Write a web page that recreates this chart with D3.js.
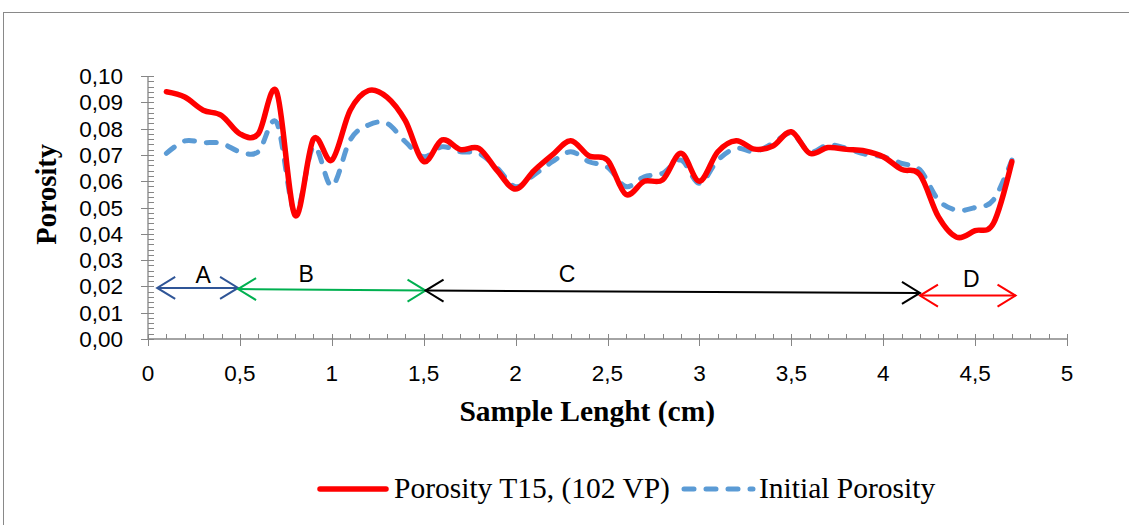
<!DOCTYPE html>
<html>
<head>
<meta charset="utf-8">
<script src="https://cdn.jsdelivr.net/npm/d3@7"></script>
<style>
  body { margin: 0; background: #fff; }
  svg { display: block; }
</style>
</head>
<body>
<div class="canva"></div>
<script>
// sample positions (cm)
const lengths = [0.1,0.2,0.3,0.4,0.5,0.6,0.7,0.8,0.9,1.0,1.1,1.2,1.3,1.4,1.5,1.6,1.7,1.8,1.9,2.0,
                 2.1,2.2,2.3,2.4,2.5,2.6,2.7,2.8,2.9,3.0,3.1,3.2,3.3,3.4,3.5,3.6,3.7,3.8,3.9,4.0,
                 4.1,4.2,4.3,4.4,4.5,4.6,4.7];
// Porosity T15, (102 VP)
const porosityT15 = [0.094,0.092,0.087,0.085,0.078,0.078,0.094,0.047,0.076,0.068,0.087,0.0945,0.092,0.083,0.0675,
                     0.0757,0.072,0.0725,0.064,0.057,0.064,0.070,0.0754,0.0696,0.068,0.055,0.060,0.0605,0.0706,0.060,
                     0.0712,0.0754,0.0722,0.0734,0.0788,0.0706,0.0728,0.0721,0.0715,0.0693,0.0645,0.0624,0.0465,0.0387,0.0412,
                     0.044,0.0674];
// Initial Porosity
const porosityInitial = [0.0706,0.0753,0.0747,0.0744,0.0712,0.0712,0.0823,0.048,0.0731,0.0582,0.0757,0.0814,0.082,0.075,0.0693,
                         0.0731,0.0712,0.0706,0.065,0.0579,0.0624,0.0674,0.0712,0.0674,0.0653,0.058,0.0617,0.063,0.068,0.0592,
                         0.068,0.0725,0.0712,0.0744,0.0782,0.0712,0.0738,0.0725,0.0703,0.0693,0.0668,0.0643,0.0529,0.049,0.050,
                         0.0529,0.068];

const xTicks = [0,0.5,1,1.5,2,2.5,3,3.5,4,4.5,5];
const yTicks = [0,0.01,0.02,0.03,0.04,0.05,0.06,0.07,0.08,0.09,0.10];

// zone arrows A-D
const zoneNames  = ["A","B","C","D"];
const zoneFrom   = [0.05,0.49,1.51,4.2];
const zoneTo     = [0.49,1.51,4.2,4.72];
const zoneYFrom  = [0.0194,0.0190,0.0184,0.0165];
const zoneYTo    = [0.0194,0.0184,0.0175,0.0165];
const zoneLabelX = [0.3,0.86,2.28,4.48];
const zoneLabelY = [0.0213,0.0216,0.0216,0.0198];
const zoneColors = ["#2f5597","#00b050","#000000","#ff0000"];

const seriesNames = ["Porosity T15, (102 VP)","Initial Porosity"];

const svg = d3.select(".canva").append("svg")
  .attr("width", 1129)
  .attr("height", 525);

svg.append("rect")
  .attr("x", 3.5).attr("y", 12.5)
  .attr("width", 1140).attr("height", 530)
  .attr("fill", "#fff")
  .attr("stroke", "#898989");

const x = d3.scaleLinear().domain([0,5]).range([148,1067]);
const y = d3.scaleLinear().domain([0,0.1]).range([339,76]);
const comma = s => s.replace(".", ",");

const axisColor = "#868686";
const tickFont = "'Liberation Sans', Arial, sans-serif";
const serifFont = "'Liberation Serif', 'Times New Roman', serif";

// x axis: minor ticks inside, major ticks cross
const xAxisG = svg.append("g");
xAxisG.append("line")
  .attr("x1", x(0)).attr("x2", x(5))
  .attr("y1", y(0)).attr("y2", y(0))
  .attr("stroke", axisColor).attr("stroke-width", 1.3);
xAxisG.selectAll(".xminor")
  .data(d3.range(0, 51))
  .enter().append("line")
  .attr("x1", d => Math.round(x(d/10)) + 0.5).attr("x2", d => Math.round(x(d/10)) + 0.5)
  .attr("y1", y(0) - 5).attr("y2", y(0))
  .attr("stroke", axisColor);
xAxisG.selectAll(".xmajor")
  .data(xTicks)
  .enter().append("line")
  .attr("x1", d => Math.round(x(d)) + 0.5).attr("x2", d => Math.round(x(d)) + 0.5)
  .attr("y1", y(0) - 5).attr("y2", y(0) + 7)
  .attr("stroke", axisColor);
xAxisG.selectAll(".xlabel")
  .data(xTicks)
  .enter().append("text")
  .attr("x", d => x(d)).attr("y", y(0) + 42)
  .attr("text-anchor", "middle")
  .style("font-family", tickFont).style("font-size", "22.5px")
  .text(d => comma(d3.format("")(d)));

// y axis
const yAxisG = svg.append("g");
yAxisG.append("line")
  .attr("x1", x(0)).attr("x2", x(0))
  .attr("y1", y(0)).attr("y2", y(0.1))
  .attr("stroke", axisColor).attr("stroke-width", 1.3);
yAxisG.selectAll(".yminor")
  .data(d3.range(0, 51))
  .enter().append("line")
  .attr("x1", x(0)).attr("x2", x(0) + 6)
  .attr("y1", d => Math.round(y(d/500)) + 0.5).attr("y2", d => Math.round(y(d/500)) + 0.5)
  .attr("stroke", axisColor);
yAxisG.selectAll(".ymajor")
  .data(yTicks)
  .enter().append("line")
  .attr("x1", x(0) - 7).attr("x2", x(0) + 6)
  .attr("y1", d => Math.round(y(d)) + 0.5).attr("y2", d => Math.round(y(d)) + 0.5)
  .attr("stroke", axisColor);
yAxisG.selectAll(".ylabel")
  .data(yTicks)
  .enter().append("text")
  .attr("x", 123).attr("y", d => y(d) + 8)
  .attr("text-anchor", "end")
  .style("font-family", tickFont).style("font-size", "22.5px")
  .text(d => comma(d3.format(".2f")(d)));

// axis titles
svg.append("text")
  .attr("transform", `translate(56, ${y(0.055)}) rotate(-90)`)
  .attr("text-anchor", "middle")
  .style("font-family", serifFont)
  .style("font-size", "28.5px").style("font-weight", "bold")
  .text("Porosity");
svg.append("text")
  .attr("x", x(2.39)).attr("y", 421)
  .attr("text-anchor", "middle")
  .style("font-family", serifFont)
  .style("font-size", "29.5px").style("font-weight", "bold")
  .text("Sample Lenght (cm)");

// lines
const line = d3.line()
  .x((d, i) => x(lengths[i]))
  .y(d => y(d))
  .curve(d3.curveCatmullRom.alpha(0));

svg.append("path")
  .datum(porosityInitial)
  .attr("d", line)
  .attr("fill", "none")
  .attr("stroke", "#5b9bd5")
  .attr("stroke-width", 5)
  .attr("stroke-linecap", "round")
  .attr("stroke-dasharray", "10,12");

svg.append("path")
  .datum(porosityT15)
  .attr("d", line)
  .attr("fill", "none")
  .attr("stroke", "#ff0000")
  .attr("stroke-width", 5.5)
  .attr("stroke-linecap", "round")
  .attr("stroke-linejoin", "round");

// zone arrows
const headLen = 18, headHalf = 11;
function arrowHead(g, px, py, dir, color) {
  // dir = -1 pointing left, 1 pointing right
  g.append("polyline")
    .attr("points", `${px - dir*headLen},${py - headHalf} ${px},${py} ${px - dir*headLen},${py + headHalf}`)
    .attr("fill", "none").attr("stroke", color).attr("stroke-width", 2);
}
zoneNames.forEach((name, i) => {
  const g = svg.append("g");
  const x1 = x(zoneFrom[i]), x2 = x(zoneTo[i]);
  const y1 = y(zoneYFrom[i]), y2 = y(zoneYTo[i]);
  g.append("line")
    .attr("x1", x1).attr("x2", x2).attr("y1", y1).attr("y2", y2)
    .attr("stroke", zoneColors[i]).attr("stroke-width", 2);
  arrowHead(g, x1, y1, -1, zoneColors[i]);
  arrowHead(g, x2, y2, 1, zoneColors[i]);
  g.append("text")
    .attr("x", x(zoneLabelX[i])).attr("y", y(zoneLabelY[i]))
    .attr("text-anchor", "middle")
    .style("font-family", tickFont).style("font-size", "23px")
    .text(name);
});

// legend
const legendY = 489;
const legendG = svg.append("g");
legendG.append("line")
  .attr("x1", 320).attr("x2", 386).attr("y1", legendY).attr("y2", legendY)
  .attr("stroke", "#ff0000").attr("stroke-width", 5.5).attr("stroke-linecap", "round");
legendG.append("text")
  .attr("x", 394).attr("y", legendY + 9)
  .style("font-family", serifFont)
  .style("font-size", "29.5px")
  .text(seriesNames[0]);
legendG.append("line")
  .attr("x1", 684).attr("x2", 753).attr("y1", legendY).attr("y2", legendY)
  .attr("stroke", "#5b9bd5").attr("stroke-width", 5).attr("stroke-linecap", "round")
  .attr("stroke-dasharray", "10,12");
legendG.append("text")
  .attr("x", 759).attr("y", legendY + 9)
  .style("font-family", serifFont)
  .style("font-size", "29.5px")
  .text(seriesNames[1]);
</script>
</body>
</html>
